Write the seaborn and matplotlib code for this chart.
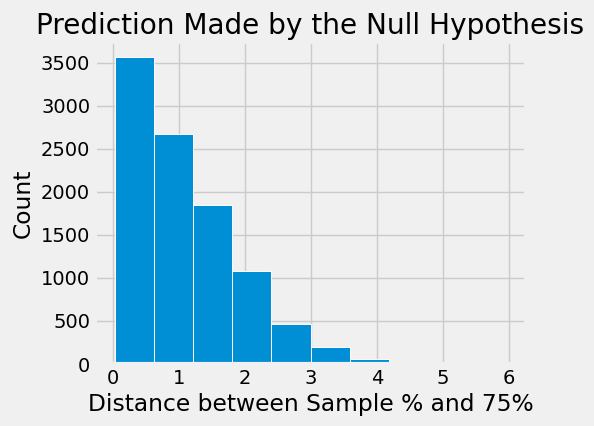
import numpy as np
import pandas as pd
import matplotlib
matplotlib.use("Agg")
import matplotlib.pyplot as plt
import seaborn as sns

# bin edges and counts
bin_edges = list(np.linspace(0.03, 5.96, 11))
counts = [3560, 2675, 1840, 1085, 470, 200, 55, 0, 0, 1]
bin_mids = [(a + b) / 2 for a, b in zip(bin_edges[:-1], bin_edges[1:])]

df = pd.DataFrame({"distance": bin_mids, "count": counts})

plt.style.use("fivethirtyeight")

fig = plt.figure(figsize=(5.94, 4.26), dpi=100)
ax = fig.add_axes([95 / 594, 62 / 426, 431 / 594, 322 / 426])
sns.histplot(data=df, x="distance", weights="count", bins=bin_edges, color="#008fd5",
             edgecolor="white", linewidth=0.7, alpha=1, ax=ax)
ax.set_title("Prediction Made by the Null Hypothesis")
ax.set_xlabel("Distance between Sample % and 75%")
ax.set_ylabel("Count")
ax.set_yticks(np.arange(0, 3501, 500))
plt.savefig("out.png", dpi=100)
